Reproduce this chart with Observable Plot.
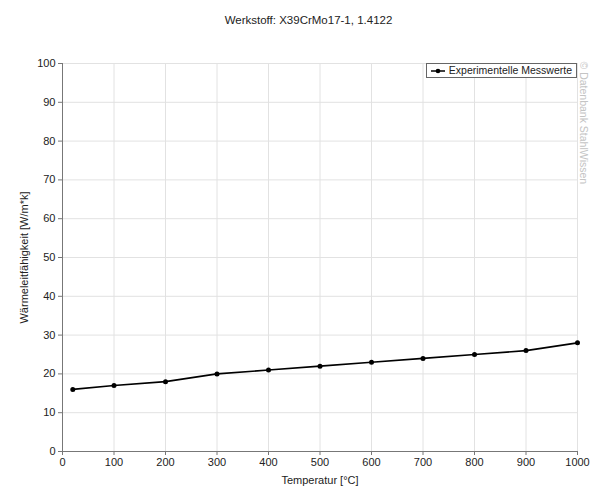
<!DOCTYPE html>
<html>
<head>
<meta charset="utf-8">
<script src="https://cdn.jsdelivr.net/npm/d3@7"></script>
<script src="https://cdn.jsdelivr.net/npm/@observablehq/plot@0.6"></script>
<style>
  body { margin: 0; background: #fff; font-family: "Liberation Sans", Arial, sans-serif; }
  #wrap { position: relative; width: 605px; height: 494px; }
  #titel { height: 40px; line-height: 40px; text-align: center; font-size: 11.5px; color: #222; padding-left: 12px; }
  #legende {
    position: absolute; top: 63px; right: 28px; height: 15px; line-height: 13px;
    border: 1px solid #666; background: #fff; font-size: 10.5px; color: #222;
    padding: 0 4px 0 3px; box-sizing: border-box; white-space: nowrap;
  }
  #legende svg { vertical-align: -1px; margin-right: 3px; }
</style>
</head>
<body>
<div id="wrap">
  <div id="titel">Werkstoff: X39CrMo17-1, 1.4122</div>
  <div id="chart"></div>
  <div id="legende"><svg width="16" height="8"><line x1="1" y1="4" x2="15" y2="4" stroke="#000" stroke-width="1.5"/><circle cx="8" cy="4" r="2.3" fill="#000"/></svg>Experimentelle Messwerte</div>
</div>
<script>
  // Messwerte: Temperatur [°C] und Wärmeleitfähigkeit [W/m*k]
  const temperatur = [20, 100, 200, 300, 400, 500, 600, 700, 800, 900, 1000];
  const waermeleitung = [16, 17, 18, 20, 21, 22, 23, 24, 25, 26, 28];
  const xTicks = [0, 100, 200, 300, 400, 500, 600, 700, 800, 900, 1000];
  const yTicks = [0, 10, 20, 30, 40, 50, 60, 70, 80, 90, 100];

  const daten = temperatur.map((t, i) => ({ t, w: waermeleitung[i] }));

  const chart = Plot.plot({
    width: 605,
    height: 454,
    marginLeft: 62,
    marginRight: 28,
    marginTop: 23,
    marginBottom: 43,
    style: {
      background: "#fff",
      color: "#222",
      fontFamily: "'Liberation Sans', Arial, sans-serif",
      fontSize: "11px",
      overflow: "visible",
    },
    x: { domain: [0, 1000] },
    y: { domain: [0, 100] },
    marks: [
      Plot.gridX(xTicks, { stroke: "#e2e2e2", strokeOpacity: 1 }),
      Plot.gridY(yTicks, { stroke: "#e2e2e2", strokeOpacity: 1 }),
      Plot.axisX({
        ticks: xTicks, tickFormat: "d", tickSize: 4, tickPadding: 3, stroke: "#777",
        label: "Temperatur [°C]", labelAnchor: "center", labelArrow: "none", labelOffset: 32
      }),
      Plot.axisY({
        ticks: yTicks, tickFormat: "d", tickSize: 4, tickPadding: 3, stroke: "#777",
        label: "Wärmeleitfähigkeit [W/m*k]", labelAnchor: "center", labelArrow: "none", labelOffset: 42
      }),
      Plot.ruleX([0], { stroke: "#777" }),
      Plot.ruleY([0], { stroke: "#777" }),
      Plot.line(daten, { x: "t", y: "w", stroke: "#000", strokeWidth: 1.6 }),
      Plot.dot(daten, { x: "t", y: "w", r: 2.5, fill: "#000" }),
      // Wasserzeichen, gedreht rechts neben der Zeichenfläche
      Plot.text(["© Datenbank StahlWissen"], {
        frameAnchor: "top-right", rotate: 90, textAnchor: "start",
        dx: 10, dy: -2, fill: "#c4c4c4", fontSize: 10.5
      })
    ]
  });
  document.getElementById("chart").appendChild(chart);
</script>
</body>
</html>
